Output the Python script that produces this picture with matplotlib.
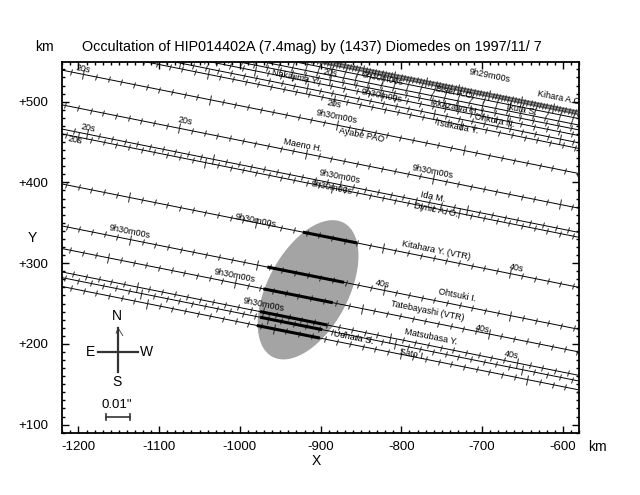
import numpy as np
import matplotlib.pyplot as plt
from matplotlib.patches import Ellipse
from matplotlib.markers import MarkerStyle
from matplotlib.transforms import Affine2D
from matplotlib.ticker import MultipleLocator

plt.rcParams['font.family'] = ['Liberation Sans', 'DejaVu Sans']

# chords: observer name, Y (km) of the chord at X = -900 km
names = ["Kihara A.O.", "Bisei A.O.", "Ikuta S.", "Nakajima Y.", "Akazawa H.", "Ohkura N.",
         "Tsukada Y.", "Ayabe PAO", "Maeno H.", "Ida M.", "Dynic A. O.", "Kitahara Y. (VTR)",
         "Ohtsuki I.", "Tatebayashi (VTR)", "Matsubasa Y.", "Uehara S.", "Sato I."]
chord_y = [550, 543, 535, 529, 522, 513, 506, 475, 432, 402, 396, 334, 282, 254, 225, 218, 207]
# X of the reference time mark on each chord
anchor_x = [-691, -823, -700, -888, -824, -760, -883, -880, -761, -876, -886, -980,
            -1136, -1006, -971, -965, -958]
# observed occultation (thick) parts
thick_obs = ["Kitahara Y. (VTR)", "Ohtsuki I.", "Tatebayashi (VTR)", "Matsubasa Y.", "Uehara S.", "Sato I."]
thick_start = [-922, -966, -971, -975, -975, -979]
thick_end = [-855, -871, -885, -892, -898, -901]

slope = -0.2          # shadow path direction
x_ref = -900
step = 15.7           # km per 2 s time mark

# asteroid profile
ell_x, ell_y = -915.6, 267
ell_a, ell_b, ell_ang = 94, 50, 62

# text labels along chords: text, X, Y
lab_text = ["20s", "20s", "9h30m00s", "9h29m00s", "Nakajima Y.", "Bisei A.O.", "Kihara A.O.",
            "9h30m00s", "Ikuta S.", "Akazawa H.", "Ohkura N.", "Tsukada Y.", "20s", "9h30m00s",
            "Ayabe PAO", "20s", "Maeno H.", "20s", "20s", "9h30m00s", "9h30m00s", "9h30m00s",
            "Ida M.", "Dynic A. O.", "9h30m00s", "9h30m00s", "Kitahara Y. (VTR)", "40s",
            "9h30m00s", "40s", "Ohtsuki I.", "9h30m00s", "Tatebayashi (VTR)", "40s",
            "Matsubasa Y.", "Uehara S.", "Sato I.", "40s"]
lab_x = [-1194, -888, -823, -691, -932, -734, -604, -824, -651, -734, -685, -731, -883, -880,
         -849, -1068, -922, -1188, -1204, -761, -876, -886, -761, -757, -980, -1136, -757, -657,
         -1006, -824, -731, -971, -768, -700, -764, -860, -786, -664]
lab_y = [540, 535, 528, 532, 530, 512, 504, 507, 490, 493, 476, 469, 497, 481,
         459, 476, 446, 467, 452, 413, 407, 394, 382, 366, 352, 339, 316, 294,
         284, 274, 260, 249, 241, 218, 209, 208, 187, 186]

fig = plt.figure(figsize=(6.4, 4.95), dpi=100)
ax = fig.add_axes([62.3 / 640, 1 - 432.7 / 495, 516.7 / 640, 371 / 495])
ax.set_xlim(-1220, -580)
ax.set_ylim(90, 549.5)

ax.add_patch(Ellipse((ell_x, ell_y), 2 * ell_a, 2 * ell_b, angle=ell_ang,
                     facecolor='#a4a4a4', edgecolor='none', zorder=1))

ang = np.degrees(np.arctan(slope))
tick_mark = MarkerStyle('|', transform=Affine2D().rotate_deg(ang))

for i, name in enumerate(names):
    xs = np.array([-1260, -540])
    ys = chord_y[i] + slope * (xs - x_ref)
    if i == 0:
        ax.plot(xs, ys, color='#959595', lw=3.6, zorder=2, solid_capstyle='butt')
        ax.plot(xs, ys + 1.6, color='#444444', lw=0.6, zorder=3)
        ax.plot(xs, ys - 1.6, color='#444444', lw=0.6, zorder=3)
        k = np.arange(-200, 201)
        xt = anchor_x[i] + k * step / 4
    else:
        ax.plot(xs, ys, color='black', lw=0.7, zorder=3)
        k = np.arange(-60, 61)
        xt = anchor_x[i] + k * step
    yt = chord_y[i] + slope * (xt - x_ref)
    short = (k % 10 != 0)
    ax.plot(xt[short], yt[short], ls='none', marker=tick_mark, ms=4.2, mew=0.7,
            color='#222222', zorder=3)
    ax.plot(xt[~short], yt[~short], ls='none', marker=tick_mark, ms=7.5, mew=0.7,
            color='#222222', zorder=3)

for j, name in enumerate(thick_obs):
    i = names.index(name)
    xs = np.array([thick_start[j], thick_end[j]])
    ys = chord_y[i] + slope * (xs - x_ref)
    ax.plot(xs, ys, color='black', lw=2.2, zorder=4, solid_capstyle='butt')

for t, x, y in zip(lab_text, lab_x, lab_y):
    ax.text(x, y, t, fontsize=6.5, rotation=ang, rotation_mode='anchor',
            ha='center', va='center', zorder=5, clip_on=True)

# compass and scale
cc = '#333333'
ax.plot([0.108, 0.108], [0.282, 0.163], transform=ax.transAxes, color=cc, lw=1.6)
ax.plot([0.069, 0.1465], [0.217, 0.217], transform=ax.transAxes, color=cc, lw=1.6)
ax.plot([0.104, 0.108, 0.117], [0.268, 0.282, 0.262], transform=ax.transAxes, color=cc, lw=0.6)
ax.text(0.106, 0.314, "N", transform=ax.transAxes, ha='center', va='center', fontsize=10)
ax.text(0.054, 0.217, "E", transform=ax.transAxes, ha='center', va='center', fontsize=10)
ax.text(0.163, 0.217, "W", transform=ax.transAxes, ha='center', va='center', fontsize=10)
ax.text(0.106, 0.137, "S", transform=ax.transAxes, ha='center', va='center', fontsize=10)
ax.text(0.106, 0.074, '0.01"', transform=ax.transAxes, ha='center', va='center', fontsize=9.5)
ax.plot([0.085, 0.131], [0.042, 0.042], transform=ax.transAxes, color=cc, lw=1.2)
ax.plot([0.085, 0.085], [0.034, 0.050], transform=ax.transAxes, color=cc, lw=1.2)
ax.plot([0.131, 0.131], [0.034, 0.050], transform=ax.transAxes, color=cc, lw=1.2)

xt_major = list(range(-1200, -599, 100))
yt_major = list(range(100, 501, 100))
ax.set_xticks(xt_major)
ax.set_xticklabels([str(v) for v in xt_major])
ax.set_yticks(yt_major)
ax.set_yticklabels(["+%d" % v for v in yt_major])
ax.xaxis.set_minor_locator(MultipleLocator(10))
ax.yaxis.set_minor_locator(MultipleLocator(10))
ax.tick_params(which='both', direction='in', top=True, right=True, width=1.0, labelsize=9.5)
ax.tick_params(which='major', length=5)
ax.tick_params(which='minor', length=2.5)
ax.tick_params(axis='x', pad=6)
ax.tick_params(axis='y', pad=10)
for s in ax.spines.values():
    s.set_linewidth(1.3)

fig.text(0.070, 0.905, "km", ha='center', va='center', fontsize=10)
fig.text(0.487, 0.905, "Occultation of HIP014402A (7.4mag) by (1437) Diomedes on 1997/11/ 7",
         ha='center', va='center', fontsize=10.4)
fig.text(0.050, 0.519, "Y", ha='center', va='center', fontsize=10)
fig.text(0.494, 0.069, "X", ha='center', va='center', fontsize=10)
fig.text(0.933, 0.097, "km", ha='center', va='center', fontsize=10)

fig.savefig("out.png", dpi=100)
